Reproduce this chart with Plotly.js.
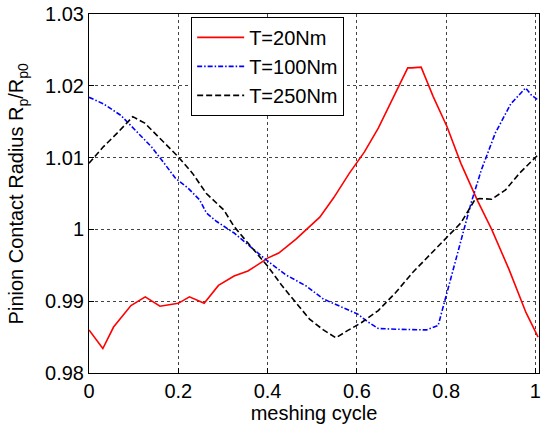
<!DOCTYPE html>
<html><head><meta charset="utf-8">
<script src="https://cdn.plot.ly/plotly-3.0.1.min.js"></script>
<style>html,body{margin:0;padding:0;background:#fff}#chart{width:541px;height:428px}</style>
</head><body><div id="chart"></div>
<script>
// T=20Nm
const x20 = [0,0.031,0.055,0.094,0.126,0.159,0.2,0.225,0.258,0.29,0.325,0.356,0.386,0.4,0.425,0.463,0.517,0.548,0.583,0.617,0.648,0.679,0.714,0.723,0.744,0.771,0.802,0.833,0.871,0.902,0.941,0.979,1.006];
const y20 = [0.9860,0.9834,0.9864,0.9894,0.9906,0.9893,0.9897,0.9906,0.9897,0.9922,0.9935,0.9942,0.9954,0.9960,0.9967,0.9986,1.0017,1.0044,1.0078,1.0108,1.0141,1.0180,1.0225,1.0225,1.0226,1.0185,1.0143,1.0092,1.0039,1.0000,0.9944,0.9884,0.9850];
// T=100Nm
const x100 = [0,0.032,0.071,0.109,0.14,0.171,0.194,0.221,0.248,0.263,0.286,0.325,0.356,0.4,0.44,0.487,0.525,0.571,0.602,0.625,0.648,0.687,0.725,0.756,0.782,0.798,0.825,0.856,0.879,0.91,0.945,0.978,0.991,1.006];
const y100 = [1.0184,1.0175,1.0159,1.0134,1.0115,1.0090,1.0071,1.0058,1.0041,1.0023,1.0011,0.9995,0.9979,0.9956,0.9937,0.9921,0.9903,0.9891,0.9882,0.9871,0.9862,0.9861,0.9860,0.9860,0.9866,0.9903,0.9963,1.0037,1.0083,1.0134,1.0175,1.0197,1.0187,1.0180];
// T=250Nm
const x250 = [0,0.032,0.063,0.098,0.125,0.156,0.2,0.232,0.263,0.302,0.325,0.356,0.4,0.433,0.463,0.494,0.525,0.553,0.579,0.61,0.648,0.687,0.725,0.764,0.798,0.833,0.864,0.875,0.902,0.933,0.964,0.991,1.006];
const y250 = [1.0092,1.0115,1.0134,1.0157,1.0148,1.0129,1.0101,1.0078,1.0050,1.0027,1.0004,0.9981,0.9949,0.9921,0.9898,0.9875,0.9860,0.9849,0.9859,0.9870,0.9887,0.9912,0.9940,0.9965,0.9986,1.0009,1.0041,1.0043,1.0042,1.0055,1.0078,1.0094,1.0104];

const names = ['T=20Nm','T=100Nm','T=250Nm'];
const xTicks = [0,0.2,0.4,0.6,0.8,1];
const xTickText = ['0','0.2','0.4','0.6','0.8','1'];
const yTicks = [0.98,0.99,1,1.01,1.02,1.03];
const yTickText = ['0.98','0.99','1','1.01','1.02','1.03'];

const F = 'Arial, "Liberation Sans", sans-serif';
const data = [
  {x:x20,y:y20,name:names[0],mode:'lines',line:{color:'#ff0000',width:1.6}},
  {x:x100,y:y100,name:names[1],mode:'lines',line:{color:'#0000ff',width:1.6,dash:'5px,2px,1.5px,2px'}},
  {x:x250,y:y250,name:names[2],mode:'lines',line:{color:'#000000',width:1.6,dash:'6px,3px'}}
];
const axisCommon = {showline:true,linecolor:'#000',linewidth:1,mirror:true,ticks:'inside',ticklen:5,tickcolor:'#000',
  showgrid:true,gridcolor:'#444',griddash:'3px,3px',gridwidth:1,zeroline:false,
  tickfont:{family:F,size:20,color:'#000'}};
const layout = {
  width:541,height:428,
  margin:{l:89,r:2,t:14,b:55},
  paper_bgcolor:'#fff',plot_bgcolor:'#fff',
  font:{family:F,size:20,color:'#000'},
  xaxis:Object.assign({},axisCommon,{range:[0,1.008],tickvals:xTicks,ticktext:xTickText,
    title:{text:'meshing cycle',font:{family:F,size:20,color:'#000'},standoff:4}}),
  yaxis:Object.assign({},axisCommon,{range:[0.98,1.03],tickvals:yTicks,ticktext:yTickText}),
  showlegend:true,
  legend:{x:0.227,y:0.992,xanchor:'left',yanchor:'top',bgcolor:'#fff',bordercolor:'#000',borderwidth:1,
    font:{family:F,size:20,color:'#000'},itemwidth:47,tracegroupgap:0},
  annotations:[{text:'Pinion Contact Radius R<sub>p</sub>/R<sub>p0</sub>',textangle:-90,xref:'paper',yref:'paper',
    x:-0.158,y:0.5,xanchor:'center',yanchor:'middle',showarrow:false,font:{family:F,size:20,color:'#000'}}]
};
Plotly.newPlot('chart',data,layout,{displayModeBar:false,staticPlot:true});
</script></body></html>
